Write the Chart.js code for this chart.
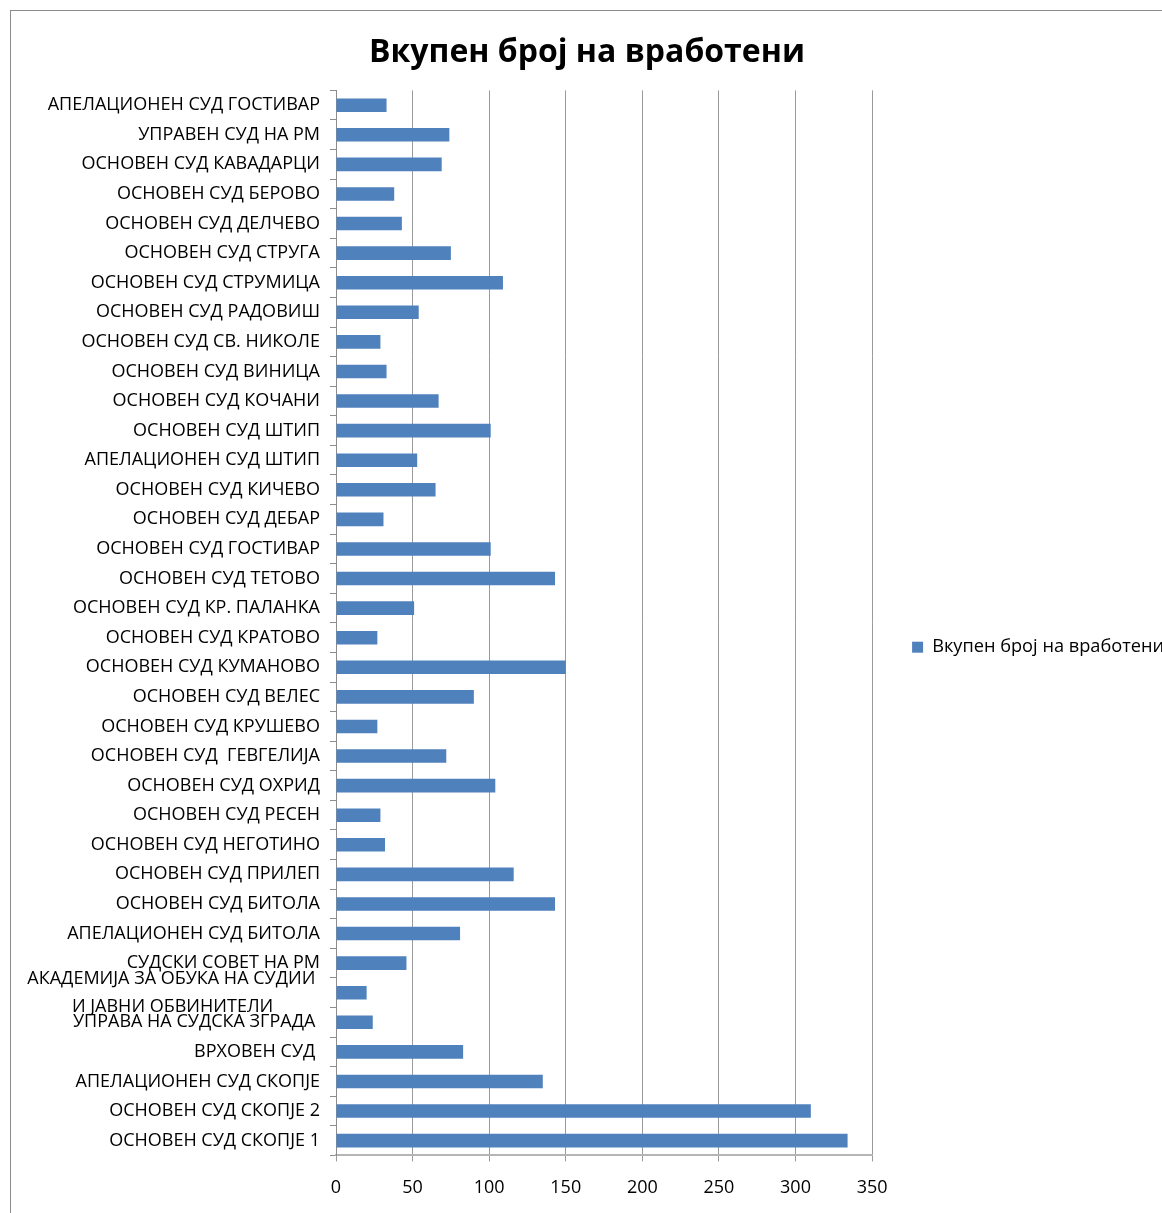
<!DOCTYPE html>
<html>
<head>
<meta charset="utf-8">
<script src="https://cdn.jsdelivr.net/npm/chart.js@4"></script>
<style>
  html, body { margin: 0; padding: 0; background: #fff; overflow: hidden; }
  #frame {
    position: absolute; left: 10px; top: 10px;
    width: 1160px; height: 1210px;
    border: 1px solid #8c8c8c;
  }
  #chart-wrap { position: absolute; left: 0; top: 11px; width: 1174px; height: 1210px; }
</style>
</head>
<body>
<div id="frame"></div>
<div id="chart-wrap"><canvas id="staff-chart"></canvas></div>
<script>
// судови, од горе надолу
const courts = [
  "АПЕЛАЦИОНЕН СУД ГОСТИВАР",
  "УПРАВЕН СУД НА РМ",
  "ОСНОВЕН СУД КАВАДАРЦИ",
  "ОСНОВЕН СУД БЕРОВО",
  "ОСНОВЕН СУД ДЕЛЧЕВО",
  "ОСНОВЕН СУД СТРУГА",
  "ОСНОВЕН СУД СТРУМИЦА",
  "ОСНОВЕН СУД РАДОВИШ",
  "ОСНОВЕН СУД СВ. НИКОЛЕ",
  "ОСНОВЕН СУД ВИНИЦА",
  "ОСНОВЕН СУД КОЧАНИ",
  "ОСНОВЕН СУД ШТИП",
  "АПЕЛАЦИОНЕН СУД ШТИП",
  "ОСНОВЕН СУД КИЧЕВО",
  "ОСНОВЕН СУД ДЕБАР",
  "ОСНОВЕН СУД ГОСТИВАР",
  "ОСНОВЕН СУД ТЕТОВО",
  "ОСНОВЕН СУД КР. ПАЛАНКА",
  "ОСНОВЕН СУД КРАТОВО",
  "ОСНОВЕН СУД КУМАНОВО",
  "ОСНОВЕН СУД ВЕЛЕС",
  "ОСНОВЕН СУД КРУШЕВО",
  "ОСНОВЕН СУД  ГЕВГЕЛИЈА",
  "ОСНОВЕН СУД ОХРИД",
  "ОСНОВЕН СУД РЕСЕН",
  "ОСНОВЕН СУД НЕГОТИНО",
  "ОСНОВЕН СУД ПРИЛЕП",
  "ОСНОВЕН СУД БИТОЛА",
  "АПЕЛАЦИОНЕН СУД БИТОЛА",
  "СУДСКИ СОВЕТ НА РМ",
  ["АКАДЕМИЈА ЗА ОБУКА НА СУДИИ ", "И ЈАВНИ ОБВИНИТЕЛИ"],
  "УПРАВА НА СУДСКА ЗГРАДА ",
  "ВРХОВЕН СУД ",
  "АПЕЛАЦИОНЕН СУД СКОПЈЕ",
  "ОСНОВЕН СУД СКОПЈЕ 2",
  "ОСНОВЕН СУД СКОПЈЕ 1"
];

const employees = [
  33, 74, 69, 38, 43, 75, 109, 54, 29, 33, 67, 101,
  53, 65, 31, 101, 143, 51, 27, 150, 90, 27, 72, 104,
  29, 32, 116, 143, 81, 46, 20, 24, 83, 135, 310, 334
];

const seriesName = "Вкупен број на вработени";
const chartTitle = "Вкупен број на вработени";

const xMax = 350;
const xStep = 50;

const FONT = "'Open Sans', 'Noto Sans', sans-serif";

const ctx = document.getElementById("staff-chart");

new Chart(ctx, {
  type: "bar",
  data: {
    labels: courts,
    datasets: [
      {
        label: seriesName,
        data: employees,
        backgroundColor: "#4f81bd",
        borderWidth: 0,
        barPercentage: 0.46,
        categoryPercentage: 1
      }
    ]
  },
  options: {
    indexAxis: "y",
    responsive: true,
    maintainAspectRatio: false,
    animation: false,
    layout: {
      padding: { left: 0, right: 0, top: 0, bottom: 6 }
    },
    scales: {
      x: {
        min: 0,
        max: xMax,
        ticks: {
          stepSize: xStep,
          color: "#000",
          padding: 16,
          font: { family: FONT, size: 18 }
        },
        grid: {
          color: "#9a9a9a",
          lineWidth: 1,
          tickLength: 6
        },
        border: { color: "#b5b5b5", width: 2 }
      },
      y: {
        ticks: {
          color: "#000",
          padding: 10,
          autoSkip: false,
          font: { family: FONT, size: 18, lineHeight: 1.55 },
          callback: function (value) {
            const label = this.getLabelForValue(value);
            if (Array.isArray(label)) {
              // втората линија да биде центрирана под првата
              const longest = Math.max.apply(null, label.map(function (l) { return l.length; }));
              return label.map(function (l) {
                return l + " ".repeat(longest - l.length);
              });
            }
            return label;
          }
        },
        grid: {
          drawOnChartArea: false,
          color: "#8c8c8c",
          tickLength: 6,
          offset: true
        },
        border: { color: "#8c8c8c", width: 1 },
        afterFit: function (scale) {
          scale.width = 336;
        }
      }
    },
    plugins: {
      title: {
        display: true,
        text: chartTitle,
        color: "#000",
        font: { family: FONT, size: 32, weight: "bold" },
        padding: { top: 23, bottom: 18 }
      },
      legend: {
        position: "right",
        maxWidth: 302,
        // празен наслов само за да се спушти легендата малку подолу
        title: { display: true, text: "", padding: 27 },
        labels: {
          color: "#000",
          boxWidth: 11,
          boxHeight: 11,
          padding: 40,
          font: { family: FONT, size: 18.2 }
        }
      },
      tooltip: { enabled: false }
    }
  }
});
</script>
</body>
</html>
